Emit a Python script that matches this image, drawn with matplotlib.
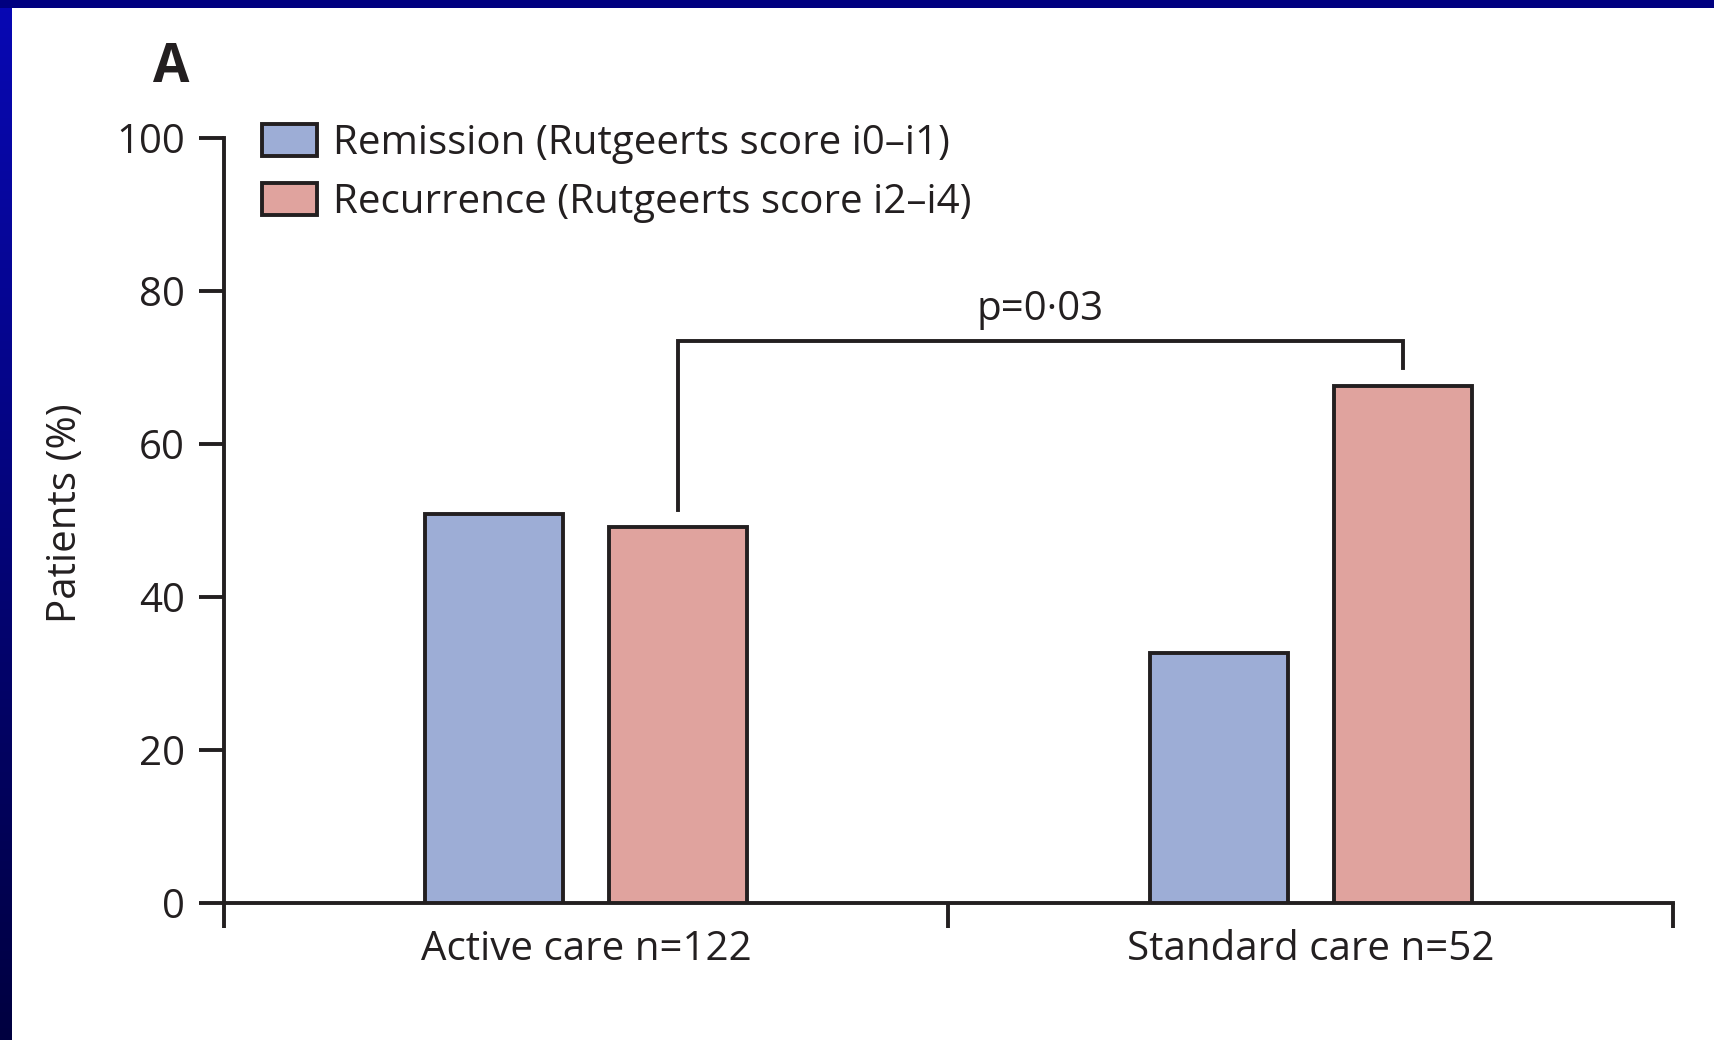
import numpy as np
import matplotlib
matplotlib.use('Agg')
import matplotlib.pyplot as plt

####################################
# Data
####################################
groups = ['Active care n=122', 'Standard care n=52']
series = ['Remission (Rutgeerts score i0\u2013i1)', 'Recurrence (Rutgeerts score i2\u2013i4)']
remission = [50.8, 32.7]
recurrence = [49.2, 67.6]
p_text = 'p=0\u00b703'
y_ticks = [0, 20, 40, 60, 80, 100]

####################################
# Style
####################################
BLUE = '#9dadd6'
RED = '#e0a39e'
INK = '#231f20'
FS = 29
LW = 2.8

plt.rcParams['font.family'] = ['Open Sans', 'DejaVu Sans']

fig = plt.figure(figsize=(17.15, 10.40), dpi=100)
fig.patch.set_facecolor('white')

# blue frame on the left and top
band = fig.add_axes([0, 0, 12 / 1715, 1])
grad = np.linspace(0, 1, 256).reshape(-1, 1)
cmap = matplotlib.colors.LinearSegmentedColormap.from_list('band', ['#0808b4', '#000040'])
band.imshow(grad, aspect='auto', cmap=cmap, extent=[0, 1, 0, 1])
band.axis('off')
top = fig.add_axes([0, 1 - 8 / 1040, 1, 8 / 1040])
top.set_facecolor('#000080')
top.set_xticks([]); top.set_yticks([])
for s in top.spines.values():
    s.set_visible(False)

ax = fig.add_axes([224 / 1715, 1 - 903 / 1040, (1673 - 224) / 1715, (903 - 138) / 1040])

x = np.array([0.5, 1.5])
off = 0.127
w = 0.19
ax.bar(x - off, remission, w, color=BLUE, edgecolor=INK, lw=LW, label=series[0], zorder=3)
ax.bar(x + off, recurrence, w, color=RED, edgecolor=INK, lw=LW, label=series[1], zorder=3)

ax.set_xlim(0, 2)
ax.set_ylim(0, 100)
for s in ['top', 'right']:
    ax.spines[s].set_visible(False)
for s in ['left', 'bottom']:
    ax.spines[s].set_linewidth(LW)
    ax.spines[s].set_color(INK)

ax.set_yticks(y_ticks)
ax.set_xticks([0, 1, 2])
ax.set_xticklabels([])
ax.set_xticks(x, minor=True)
ax.set_xticklabels(groups, minor=True)
ax.tick_params(axis='y', length=18, width=LW, color=INK, pad=10, labelsize=FS, labelcolor=INK)
ax.tick_params(axis='x', which='major', length=18, width=LW, color=INK)
ax.tick_params(axis='x', which='minor', length=0, pad=19, labelsize=FS, labelcolor=INK)
ax.set_ylabel('Patients (%)', fontsize=FS, color=INK)
ax.yaxis.set_label_coords(-0.095, 0.51)

# significance bracket between the recurrence bars
xl, xr = x[0] + off, x[1] + off
ytop = max(recurrence) + 5.8
ax.plot([xl, xl, xr, xr], [recurrence[0] + 2.2, ytop, ytop, recurrence[1] + 2.4],
        color=INK, lw=LW, solid_joinstyle='miter', clip_on=False)
ax.text((xl + xr) / 2, ytop + 1.5, p_text, ha='center', va='bottom', fontsize=FS, color=INK)

leg = ax.legend(loc='upper left', bbox_to_anchor=(0.015, 1.04), frameon=False, fontsize=FS,
                handlelength=1.37, handleheight=0.85, handletextpad=0.4, labelspacing=0.45,
                borderaxespad=0)
for t in leg.get_texts():
    t.set_color(INK)

fig.text(0.089, 1 - 75 * 1.09375 / 1040, 'A', fontsize=38, fontweight='bold', color=INK)

fig.savefig('out.png', dpi=100, facecolor='white')
